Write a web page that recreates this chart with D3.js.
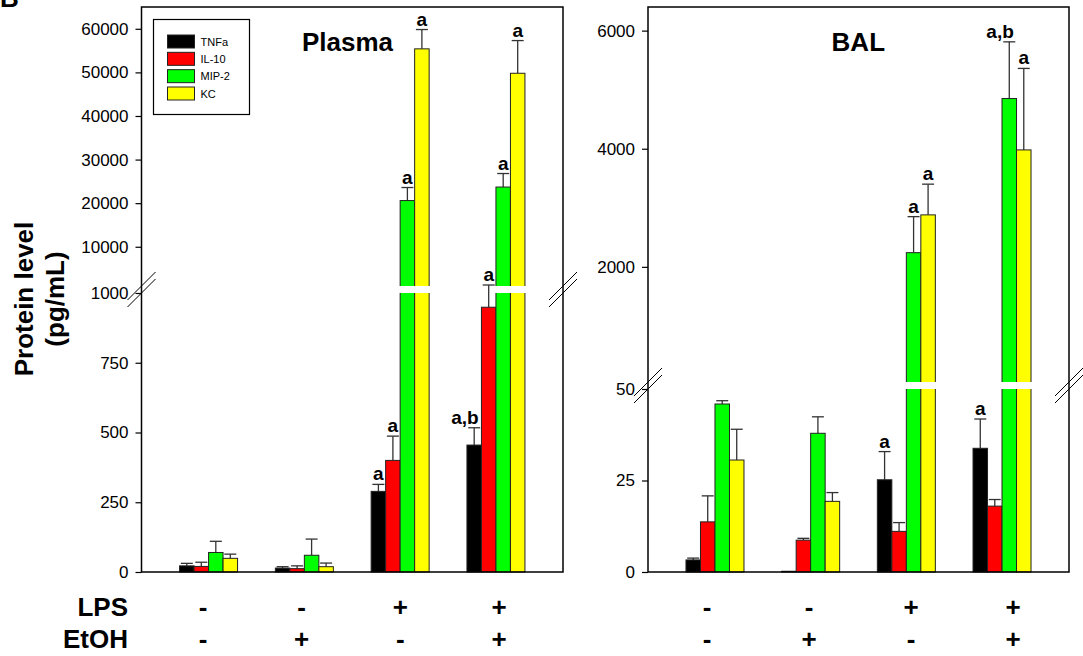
<!DOCTYPE html>
<html><head><meta charset="utf-8">
<script src="https://cdn.jsdelivr.net/npm/d3@7"></script>
<style>
html,body{margin:0;padding:0;background:#fff;}
svg{display:block;font-family:"Liberation Sans",Arial,sans-serif;}
</style></head>
<body>
<svg id="chart" width="1083" height="656"></svg>
<script>
// ---------------- data ----------------
const groups = [1, 2, 3, 4];
const lpsRow  = ["-", "-", "+", "+"];
const etohRow = ["-", "+", "-", "+"];
const series = ["TNFa", "IL-10", "MIP-2", "KC"];
const colors = ["#000000", "#ff0000", "#00ff00", "#ffff00"];

// Plasma (pg/mL)
const plasmaTNFa = [22, 14, 289, 455];
const plasmaIL10 = [20, 12, 400, 949];
const plasmaMIP2 = [70, 60, 20600, 23700];
const plasmaKC   = [49, 19, 55400, 49800];
const plasmaTNFaErr = [9, 5, 25, 62];
const plasmaIL10Err = [15, 10, 87, 280];
const plasmaMIP2Err = [40, 58, 2990, 3100];
const plasmaKCErr   = [15, 13, 4430, 7500];

// BAL (pg/mL)
const balTNFa = [3.3, 0.2, 25.2, 33.8];
const balIL10 = [13.7, 8.7, 11.1, 18.0];
const balMIP2 = [45.9, 37.9, 2240, 4850];
const balKC   = [30.6, 19.3, 2880, 3980];
const balTNFaErr = [0.5, 0, 7.7, 8.0];
const balIL10Err = [7.1, 0.5, 2.4, 1.8];
const balMIP2Err = [0.9, 4.5, 610, 960];
const balKCErr   = [8.4, 2.4, 520, 1380];

// tick labels
const plasmaLowerTicks = [0, 250, 500, 750, 1000];
const plasmaUpperTicks = [10000, 20000, 30000, 40000, 50000, 60000];
const balLowerTicks = [0, 25, 50];
const balUpperTicks = [2000, 4000, 6000];

// significance letters
const plasmaLetters = [
  {g: 3, s: "TNFa", t: "a"}, {g: 3, s: "IL-10", t: "a"}, {g: 3, s: "MIP-2", t: "a"}, {g: 3, s: "KC", t: "a"},
  {g: 4, s: "TNFa", t: "a,b"}, {g: 4, s: "IL-10", t: "a"}, {g: 4, s: "MIP-2", t: "a"}, {g: 4, s: "KC", t: "a"}
];
const balLetters = [
  {g: 3, s: "TNFa", t: "a"}, {g: 3, s: "MIP-2", t: "a"}, {g: 3, s: "KC", t: "a"},
  {g: 4, s: "TNFa", t: "a"}, {g: 4, s: "MIP-2", t: "a,b"}, {g: 4, s: "KC", t: "a"}
];

// ---------------- drawing ----------------
const svg = d3.select("#chart");
const FONT = '"Liberation Sans",Arial,sans-serif';

function toRows(vals, errs) {
  const rows = [];
  groups.forEach((g, gi) => {
    series.forEach((s, si) => {
      rows.push({g, s, si, v: vals[si][gi], e: errs[si][gi]});
    });
  });
  return rows;
}

function panel(cfg) {
  const gRoot = svg.append("g");
  const x = d3.scaleLinear().domain([0.3, 4.7]).range([cfg.x0, cfg.x1]);
  const xs = d3.scaleBand().domain(series).range([-29, 29]).padding(0);
  const yLow = d3.scaleLinear().domain([0, cfg.brk]).range([cfg.yBot, cfg.lowTop]);
  const yUp = d3.scaleLinear().domain([cfg.brk, cfg.upMax]).range([cfg.upBot, cfg.yTop]);
  const y = v => v <= cfg.brk ? yLow(v) : yUp(v);
  const rows = toRows(cfg.vals, cfg.errs);
  const bx = d => x(d.g) + xs(d.s);
  const bw = xs.bandwidth();

  // error bars (drawn first, bars on top)
  const eb = gRoot.append("g").attr("stroke", "#333").attr("stroke-width", 1.3).attr("fill", "none");
  rows.filter(d => d.e > 0).forEach(d => {
    const cx = bx(d) + bw / 2;
    eb.append("line").attr("x1", cx).attr("x2", cx).attr("y1", y(d.v)).attr("y2", y(d.v + d.e));
    eb.append("line").attr("x1", cx - 6).attr("x2", cx + 6).attr("y1", y(d.v + d.e)).attr("y2", y(d.v + d.e));
  });

  // bars
  gRoot.append("g").selectAll("rect").data(rows).join("rect")
    .attr("x", d => bx(d)).attr("width", bw)
    .attr("y", d => y(d.v)).attr("height", d => Math.max(0.5, cfg.yBot - y(d.v)))
    .attr("fill", d => colors[d.si]).attr("stroke", "#222").attr("stroke-width", 1);

  // white gap across bars exceeding the break
  gRoot.append("g").selectAll("rect").data(rows.filter(d => d.v > cfg.brk)).join("rect")
    .attr("x", d => bx(d) - 1.5).attr("width", bw + 3)
    .attr("y", cfg.upBot).attr("height", cfg.lowTop - cfg.upBot)
    .attr("fill", "#fff");

  // letters
  gRoot.append("g").selectAll("text").data(cfg.letters).join("text")
    .attr("x", d => {
      const r = rows.find(q => q.g === d.g && q.s === d.s);
      const cx = bx(r) + bw / 2;
      return d.t.length > 1 ? cx + 4.5 : cx;
    })
    .attr("y", d => {
      const r = rows.find(q => q.g === d.g && q.s === d.s);
      return y(r.v + r.e) - 4;
    })
    .attr("text-anchor", d => d.t.length > 1 ? "end" : "middle")
    .attr("font-family", FONT).attr("font-weight", "bold").attr("font-size", 19)
    .text(d => d.t);

  // frame
  gRoot.append("rect").attr("x", cfg.x0).attr("y", cfg.yTop)
    .attr("width", cfg.x1 - cfg.x0).attr("height", cfg.yBot - cfg.yTop)
    .attr("fill", "none").attr("stroke", "#000").attr("stroke-width", 1.5);

  // y axes
  const axLow = d3.axisLeft(yLow).tickValues(cfg.lowTicks).tickSize(6).tickPadding(7).tickFormat(d3.format("d"));
  const axUp = d3.axisLeft(yUp).tickValues(cfg.upTicks).tickSize(6).tickPadding(7).tickFormat(d3.format("d"));
  [axLow, axUp].forEach(ax => {
    const a = gRoot.append("g").attr("transform", `translate(${cfg.x0},0)`).call(ax);
    a.select(".domain").remove();
    a.selectAll("line").attr("stroke", "#000").attr("stroke-width", 1.2);
    a.selectAll("text").attr("font-family", FONT).attr("font-size", 17).attr("fill", "#000");
  });

  // break marks
  const cy = (cfg.upBot + cfg.lowTop) / 2;
  [cfg.x0, cfg.x1].forEach(ax => {
    [-3.5, 3.5].forEach(off => {
      gRoot.append("line")
        .attr("x1", ax - 14).attr("y1", cy + off + 14)
        .attr("x2", ax + 14).attr("y2", cy + off - 14)
        .attr("stroke", "#000").attr("stroke-width", 1);
    });
  });

  // title
  gRoot.append("text").attr("x", cfg.titleX).attr("y", 51).attr("text-anchor", "middle")
    .attr("font-family", FONT).attr("font-weight", "bold").attr("font-size", 26).text(cfg.title);

  // condition rows
  const xc = d3.scalePoint().domain(groups).range(cfg.signRange);
  [[lpsRow, 616], [etohRow, 648]].forEach(([row, yy]) => {
    gRoot.append("g").selectAll("text").data(groups).join("text")
      .attr("x", g => xc(g)).attr("y", yy).attr("text-anchor", "middle")
      .attr("font-family", FONT).attr("font-weight", "bold").attr("font-size", 26)
      .text((g, i) => row[i]);
  });
}

panel({
  title: "Plasma", titleX: 347.5,
  x0: 141.5, x1: 563, yTop: 7, yBot: 572,
  brk: 1000, lowTop: 293, upBot: 286, upMax: 65000,
  lowTicks: plasmaLowerTicks, upTicks: plasmaUpperTicks,
  vals: [plasmaTNFa, plasmaIL10, plasmaMIP2, plasmaKC],
  errs: [plasmaTNFaErr, plasmaIL10Err, plasmaMIP2Err, plasmaKCErr],
  letters: plasmaLetters, signRange: [203, 499]
});

panel({
  title: "BAL", titleX: 858.3,
  x0: 648, x1: 1069, yTop: 7, yBot: 572,
  brk: 50, lowTop: 389, upBot: 382, upMax: 6400,
  lowTicks: balLowerTicks, upTicks: balUpperTicks,
  vals: [balTNFa, balIL10, balMIP2, balKC],
  errs: [balTNFaErr, balIL10Err, balMIP2Err, balKCErr],
  letters: balLetters, signRange: [707, 1013]
});

// row labels
svg.append("text").attr("x", 128).attr("y", 616).attr("text-anchor", "end")
  .attr("font-family", FONT).attr("font-weight", "bold").attr("font-size", 26).text("LPS");
svg.append("text").attr("x", 128).attr("y", 648).attr("text-anchor", "end")
  .attr("font-family", FONT).attr("font-weight", "bold").attr("font-size", 26).text("EtOH");

// y-axis title
const yt = svg.append("text").attr("transform", "translate(33,299) rotate(-90)")
  .attr("text-anchor", "middle").attr("font-family", FONT).attr("font-weight", "bold").attr("font-size", 26);
yt.append("tspan").attr("x", 0).attr("y", 0).text("Protein level");
yt.append("tspan").attr("x", 0).attr("y", 31).text("(pg/mL)");

// panel letter (cropped at top)
svg.append("text").attr("x", 0).attr("y", 7).attr("font-family", FONT)
  .attr("font-weight", "bold").attr("font-size", 26).text("B");

// legend
const lg = svg.append("g");
lg.append("rect").attr("x", 153.5).attr("y", 19.5).attr("width", 96).attr("height", 95)
  .attr("fill", "#fff").attr("stroke", "#000").attr("stroke-width", 1.2);
const ly = d3.scalePoint().domain(series).range([35, 87]);
series.forEach((s, i) => {
  lg.append("rect").attr("x", 167.5).attr("y", ly(s)).attr("width", 27).attr("height", 13)
    .attr("fill", colors[i]).attr("stroke", "#222").attr("stroke-width", 1);
  lg.append("text").attr("x", 200.5).attr("y", ly(s) + 10.5)
    .attr("font-family", FONT).attr("font-size", 11).text(s);
});
</script>
</body></html>
